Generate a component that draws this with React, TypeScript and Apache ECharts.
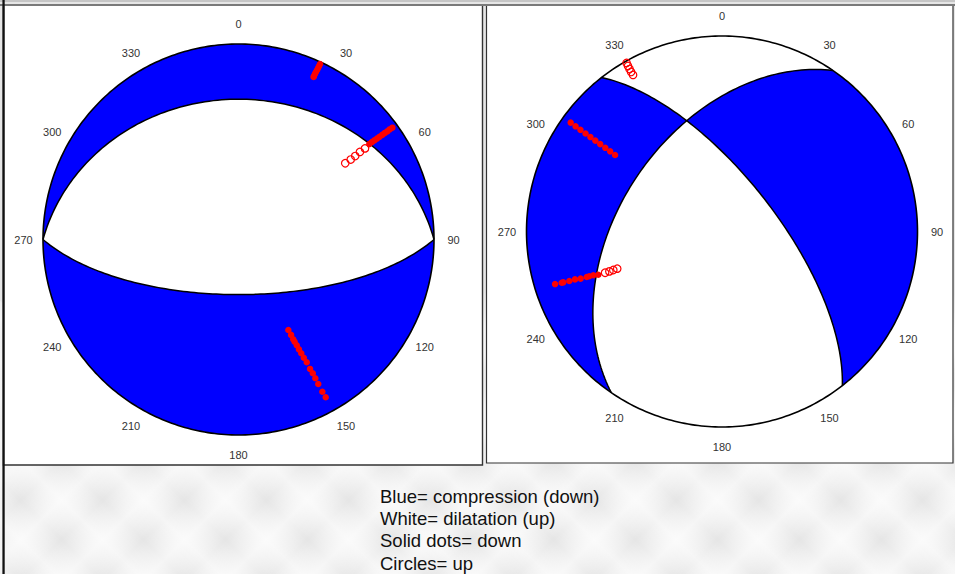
import React, { useEffect, useRef } from "react";
import * as echarts from "echarts";

// ---------------- data ----------------
// azimuth tick labels (degrees, clockwise from north)
const azimuthTicks = [0, 30, 60, 90, 120, 150, 180, 210, 240, 270, 300, 330];

// nodal planes [strike, dip] (right-hand rule), lower-hemisphere equal-area net
const leftPlanes: number[][] = [
  [270, 29],
  [90, 67],
];
const rightPlanes: number[][] = [
  [322, 67.7],
  [214.5, 47],
];

// first-motion observations, projected positions on the unit net (x = east, y = north)
const leftDown: number[][] = [
  [0.417, 0.898], [0.412, 0.887], [0.407, 0.877], [0.402, 0.867], [0.396, 0.857], [0.391, 0.847], [0.386, 0.836], [0.384, 0.831],
  [0.787, 0.572], [0.773, 0.563], [0.761, 0.553], [0.747, 0.544], [0.735, 0.535], [0.721, 0.525], [0.708, 0.516], [0.695, 0.507], [0.682, 0.498], [0.669, 0.488],
  [0.255, -0.463], [0.269, -0.488], [0.28, -0.51], [0.287, -0.523], [0.298, -0.541], [0.309, -0.562], [0.321, -0.582], [0.334, -0.605],
  [0.349, -0.628], [0.366, -0.662], [0.38, -0.684], [0.393, -0.71], [0.408, -0.739], [0.429, -0.779], [0.446, -0.807],
];
const leftUp: number[][] = [
  [0.546, 0.39], [0.574, 0.409], [0.597, 0.427], [0.621, 0.448], [0.647, 0.466],
];
const rightDown: number[][] = [
  [-0.774, 0.557], [-0.749, 0.538], [-0.724, 0.52], [-0.698, 0.501], [-0.673, 0.483], [-0.648, 0.465], [-0.623, 0.447], [-0.597, 0.428], [-0.572, 0.41], [-0.547, 0.391],
  [-0.854, -0.269], [-0.82, -0.262], [-0.812, -0.26], [-0.781, -0.253], [-0.752, -0.245], [-0.723, -0.241], [-0.692, -0.233], [-0.679, -0.229], [-0.658, -0.224], [-0.633, -0.221],
];
const rightUp: number[][] = [
  [-0.488, 0.862], [-0.481, 0.847], [-0.473, 0.831], [-0.465, 0.816], [-0.455, 0.801],
  [-0.598, -0.211], [-0.576, -0.204], [-0.556, -0.197], [-0.536, -0.19],
];

const legendLines = [
  "Blue= compression (down)",
  "White= dilatation (up)",
  "Solid dots= down",
  "Circles= up",
];

// ---------------- layout / style ----------------
const W = 955;
const H = 574;
const BALLS = [
  { cx: 238.5, cy: 239.5, r: 195.5 },
  { cx: 722, cy: 231.5, r: 195.5 },
];
const BLUE = "#0000ff";
const RED = "#ff0000";
const FONT = "'Liberation Sans', Arial, Helvetica, sans-serif";

// ---------------- geometry helpers ----------------
const RAD = Math.PI / 180;
type V3 = [number, number, number];
function planeBasis(strike: number, dip: number) {
  const st = strike * RAD;
  const dd = (strike + 90) * RAD;
  const dp = dip * RAD;
  const s: V3 = [Math.sin(st), Math.cos(st), 0];
  const d: V3 = [Math.cos(dp) * Math.sin(dd), Math.cos(dp) * Math.cos(dd), Math.sin(dp)];
  return { s, d };
}
function cross(a: V3, b: V3): V3 {
  return [a[1] * b[2] - a[2] * b[1], a[2] * b[0] - a[0] * b[2], a[0] * b[1] - a[1] * b[0]];
}
function dot(a: V3, b: V3) {
  return a[0] * b[0] + a[1] * b[1] + a[2] * b[2];
}
function toNet(v: V3): number[] {
  let [e, n, z] = v;
  if (z < -1e-9) {
    e = -e;
    n = -n;
    z = -z;
  }
  const k = 1 / Math.sqrt(1 + Math.max(z, 0));
  return [e * k, n * k];
}
function trace(p: { s: V3; d: V3 }, t0: number, t1: number, n = 120) {
  const out: number[][] = [];
  for (let i = 0; i <= n; i++) {
    const t = (t0 + ((t1 - t0) * i) / n) * RAD;
    const c = Math.cos(t);
    const s = Math.sin(t);
    out.push(toNet([c * p.s[0] + s * p.d[0], c * p.s[1] + s * p.d[1], c * p.s[2] + s * p.d[2]]));
  }
  return out;
}
function rim(a0: number, a1: number, n = 120) {
  const out: number[][] = [];
  for (let i = 0; i <= n; i++) {
    const a = (a0 + ((a1 - a0) * i) / n) * RAD;
    out.push([Math.sin(a), Math.cos(a)]);
  }
  return out;
}
function nullT(p: { s: V3; d: V3 }, q: { s: V3; d: V3 }) {
  let b = cross(cross(p.s, p.d), cross(q.s, q.d));
  if (b[2] < 0) b = [-b[0], -b[1], -b[2]];
  return Math.atan2(dot(b, p.d), dot(b, p.s)) / RAD;
}

const lineStyle = { stroke: "#000", lineWidth: 1.5, fill: "none" };

function leftBall(_params: any, api: any) {
  const c = (pts: number[][]) => pts.map((pt) => api.coord(pt));
  const [p1, p2] = leftPlanes.map(([s, d]) => planeBasis(s, d));
  const circle = c(rim(0, 360, 360));
  const a = trace(p1, 0, 180);
  const b = trace(p2, 0, 180);
  return {
    type: "group",
    children: [
      { type: "polygon", shape: { points: circle }, style: { fill: BLUE } },
      { type: "polygon", shape: { points: c([...a, ...b]) }, style: { fill: "#fff" } },
      { type: "polyline", shape: { points: c(a) }, style: lineStyle },
      { type: "polyline", shape: { points: c(b) }, style: lineStyle },
      { type: "polygon", shape: { points: circle }, style: { fill: "none", stroke: "#000", lineWidth: 1.6 } },
    ],
  };
}

function rightBall(_params: any, api: any) {
  const c = (pts: number[][]) => pts.map((pt) => api.coord(pt));
  const [pA, pB] = rightPlanes.map(([s, d]) => planeBasis(s, d));
  const sA = rightPlanes[0][0];
  const sB = rightPlanes[1][0];
  const tA = nullT(pA, pB);
  const tB = nullT(pB, pA);
  const circle = c(rim(0, 360, 360));
  const west = [...trace(pA, 0, tA), ...trace(pB, tB, 0), ...rim(sB, sA)];
  const east = [...trace(pA, tA, 180), ...rim(sA + 180, sB + 180), ...trace(pB, 180, tB)];
  return {
    type: "group",
    children: [
      { type: "polygon", shape: { points: circle }, style: { fill: "#fff" } },
      { type: "polygon", shape: { points: c(west) }, style: { fill: BLUE } },
      { type: "polygon", shape: { points: c(east) }, style: { fill: BLUE } },
      { type: "polyline", shape: { points: c(trace(pA, 0, 180)) }, style: lineStyle },
      { type: "polyline", shape: { points: c(trace(pB, 0, 180)) }, style: lineStyle },
      { type: "polygon", shape: { points: circle }, style: { fill: "none", stroke: "#000", lineWidth: 1.6 } },
    ],
  };
}

function tickLabel(_params: any, api: any) {
  const az = api.value(0);
  const p = api.coord([1.1 * Math.sin(az * RAD), 1.1 * Math.cos(az * RAD)]);
  return {
    type: "text",
    x: p[0],
    y: p[1],
    style: {
      text: String(az),
      align: "center",
      verticalAlign: "middle",
      fontSize: 11,
      fontFamily: FONT,
      fill: "#333",
    },
  };
}

function buildGraphic() {
  const els: any[] = [];
  els.push({ type: "rect", z: -100, shape: { x: 0, y: 0, width: W, height: H }, style: { fill: "#e6e6e6" } });
  const band = () =>
    new echarts.graphic.LinearGradient(0, 0, 1, 0, [
      { offset: 0, color: "rgba(255,255,255,0)" },
      { offset: 0.5, color: "rgba(255,255,255,0.6)" },
      { offset: 1, color: "rgba(255,255,255,0)" },
    ]);
  for (let i = -8; i < 20; i++) {
    for (const dir of [1, -1]) {
      els.push({
        type: "rect",
        z: -99,
        x: i * 82 + (dir > 0 ? 0 : 41),
        y: 520,
        rotation: dir * 0.8,
        shape: { x: -28, y: -300, width: 56, height: 600 },
        style: { fill: band() },
      });
    }
  }
  // top rules
  els.push({ type: "rect", z: -90, shape: { x: 0, y: 0, width: W, height: 2 }, style: { fill: "#c6c6c6" } });
  // panels
  els.push({
    type: "rect",
    z: -80,
    shape: { x: 3.5, y: 5, width: 479, height: 460 },
    style: { fill: "#fff", stroke: "#333", lineWidth: 1.4 },
  });
  els.push({
    type: "rect",
    z: -80,
    shape: { x: 486.5, y: 5, width: 466.5, height: 458 },
    style: { fill: "#fff", stroke: "#333", lineWidth: 1.2 },
  });
  els.push({ type: "rect", z: -79, shape: { x: 0, y: 4, width: W, height: 2 }, style: { fill: "#7a7a7a" } });
  els.push({ type: "rect", z: -79, shape: { x: 2.4, y: 0, width: 2.3, height: H }, style: { fill: "#111" } });
  // legend text
  legendLines.forEach((t, i) => {
    els.push({
      type: "text",
      z: 10,
      x: 380,
      y: 496 + i * 22.4,
      style: { text: t, fontSize: 18.5, fontFamily: FONT, fill: "#111", align: "left", verticalAlign: "middle" },
    });
  });
  return els;
}

export default function App() {
  const ref = useRef<HTMLDivElement>(null);
  useEffect(() => {
    if (!ref.current) return;
    const chart = echarts.init(ref.current, null, { renderer: "svg" });
    const grids = BALLS.map((b) => ({ left: b.cx - b.r, top: b.cy - b.r, width: 2 * b.r, height: 2 * b.r, containLabel: false }));
    const axis = (i: number) => ({ type: "value", min: -1, max: 1, show: false, gridIndex: i });
    const tickData = azimuthTicks.map((a) => [a, 0]);
    const solid = (data: number[][], i: number) => ({
      type: "scatter",
      xAxisIndex: i,
      yAxisIndex: i,
      data,
      symbol: "circle",
      symbolSize: 6.5,
      itemStyle: { color: RED, opacity: 1 },
      z: 5,
      silent: true,
    });
    const open = (data: number[][], i: number) => ({
      type: "scatter",
      xAxisIndex: i,
      yAxisIndex: i,
      data,
      symbol: "circle",
      symbolSize: 7.5,
      itemStyle: { color: "rgba(0,0,0,0)", borderColor: RED, borderWidth: 1.2, opacity: 1 },
      z: 5,
      silent: true,
    });
    chart.setOption({
      animation: false,
      backgroundColor: "transparent",
      grid: grids,
      xAxis: [axis(0), axis(1)],
      yAxis: [axis(0), axis(1)],
      graphic: { elements: buildGraphic() },
      series: [
        { type: "custom", xAxisIndex: 0, yAxisIndex: 0, data: [[0, 0]], renderItem: leftBall, z: 3, silent: true, clip: false },
        { type: "custom", xAxisIndex: 1, yAxisIndex: 1, data: [[0, 0]], renderItem: rightBall, z: 3, silent: true, clip: false },
        { type: "custom", xAxisIndex: 0, yAxisIndex: 0, data: tickData, renderItem: tickLabel, z: 4, silent: true, clip: false },
        { type: "custom", xAxisIndex: 1, yAxisIndex: 1, data: tickData, renderItem: tickLabel, z: 4, silent: true, clip: false },
        solid(leftDown, 0),
        open(leftUp, 0),
        solid(rightDown, 1),
        open(rightUp, 1),
      ],
    });
    return () => chart.dispose();
  }, []);
  return <div ref={ref} style={{ position: "absolute", left: 0, top: 0, width: W, height: H }} />;
}
